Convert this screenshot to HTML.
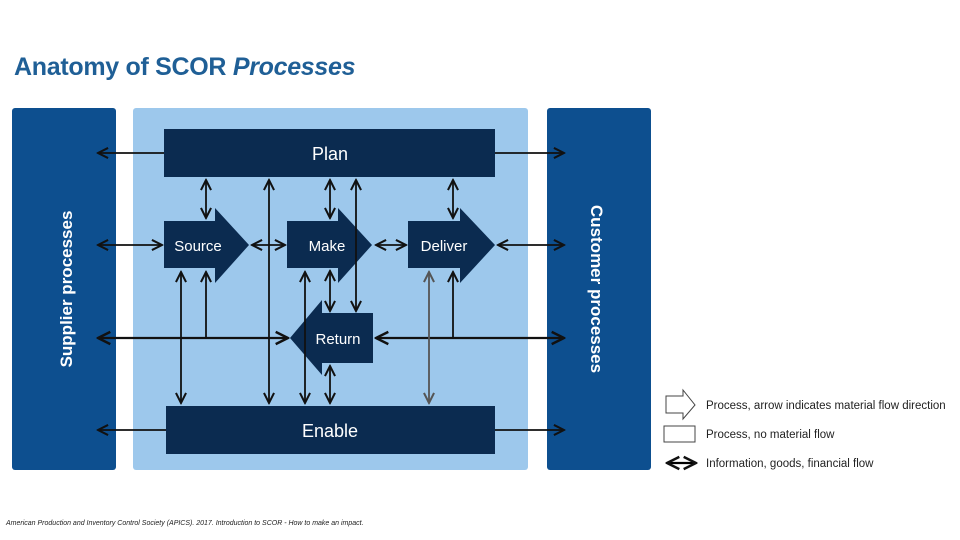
<!DOCTYPE html>
<html><head><meta charset="utf-8"><style>
body{margin:0;width:960px;height:540px;background:#fff;overflow:hidden;font-family:"Liberation Sans",sans-serif;position:relative}
.t{position:absolute;left:14px;top:53px;font-size:25px;font-weight:bold;color:#1f5f96;letter-spacing:-0.3px}
.f{position:absolute;left:6px;top:520px;font-size:7px;font-style:italic;color:#222}
</style></head><body>
<div class="t">Anatomy of SCOR <i>Processes</i></div>
<svg width="960" height="540" style="position:absolute;left:0;top:0" font-family="Liberation Sans, sans-serif">
<defs>
<marker id="a" viewBox="0 0 10 10" refX="9" refY="5" markerWidth="7" markerHeight="7" orient="auto-start-reverse"><path d="M1,1 L9,5 L1,9" fill="none" stroke="#111" stroke-width="1.6"/></marker>
<marker id="g" viewBox="0 0 10 10" refX="9" refY="5" markerWidth="7" markerHeight="7" orient="auto-start-reverse"><path d="M1,1 L9,5 L1,9" fill="none" stroke="#555" stroke-width="1.6"/></marker>
</defs>
<rect x="12" y="108" width="104" height="362" rx="3" fill="#0d4f8f"/>
<rect x="547" y="108" width="104" height="362" rx="3" fill="#0d4f8f"/>
<rect x="133" y="108" width="395" height="362" rx="3" fill="#9dc8ec"/>
<text transform="translate(72,289) rotate(-90)" text-anchor="middle" fill="#fff" font-size="17" font-weight="bold">Supplier processes</text>
<text transform="translate(591,289) rotate(90)" text-anchor="middle" fill="#fff" font-size="17" font-weight="bold">Customer processes</text>
<rect x="164" y="129" width="331" height="48" fill="#0b2b50"/>
<text x="330" y="160" text-anchor="middle" fill="#fff" font-size="18">Plan</text>
<rect x="166" y="406" width="329" height="48" fill="#0b2b50"/>
<text x="330" y="437" text-anchor="middle" fill="#fff" font-size="18">Enable</text>
<path d="M164,221 H215 V208 L249,245 L215,283 V268 H164Z" fill="#0b2b50"/>
<text x="198" y="251" text-anchor="middle" fill="#fff" font-size="15">Source</text>
<path d="M287,221 H338 V208 L372,245 L338,283 V268 H287Z" fill="#0b2b50"/>
<text x="327" y="251" text-anchor="middle" fill="#fff" font-size="15">Make</text>
<path d="M408,221 H460 V208 L495,245 L460,283 V268 H408Z" fill="#0b2b50"/>
<text x="444" y="251" text-anchor="middle" fill="#fff" font-size="15">Deliver</text>
<path d="M373,313 H322 V300 L290,338 L322,375 V363 H373Z" fill="#0b2b50"/>
<text x="338" y="344" text-anchor="middle" fill="#fff" font-size="15">Return</text>
<g stroke="#111" stroke-width="1.8" fill="none">
<line x1="164" y1="153" x2="98" y2="153" marker-end="url(#a)"/>
<line x1="495" y1="153" x2="564" y2="153" marker-end="url(#a)"/>
<line x1="98" y1="245" x2="162" y2="245" marker-start="url(#a)" marker-end="url(#a)"/>
<line x1="252" y1="245" x2="285" y2="245" marker-start="url(#a)" marker-end="url(#a)"/>
<line x1="376" y1="245" x2="406" y2="245" marker-start="url(#a)" marker-end="url(#a)"/>
<line x1="498" y1="245" x2="564" y2="245" marker-start="url(#a)" marker-end="url(#a)"/>
<line x1="98" y1="338" x2="288" y2="338" marker-start="url(#a)" marker-end="url(#a)" stroke-width="2.2"/>
<line x1="376" y1="338" x2="564" y2="338" marker-start="url(#a)" marker-end="url(#a)" stroke-width="2.2"/>
<line x1="166" y1="430" x2="98" y2="430" marker-end="url(#a)"/>
<line x1="495" y1="430" x2="564" y2="430" marker-end="url(#a)"/>
<line x1="206" y1="180" x2="206" y2="218" marker-start="url(#a)" marker-end="url(#a)"/>
<line x1="330" y1="180" x2="330" y2="218" marker-start="url(#a)" marker-end="url(#a)"/>
<line x1="453" y1="180" x2="453" y2="218" marker-start="url(#a)" marker-end="url(#a)"/>
<line x1="269" y1="180" x2="269" y2="403" marker-start="url(#a)" marker-end="url(#a)"/>
<line x1="356" y1="180" x2="356" y2="311" marker-start="url(#a)" marker-end="url(#a)"/>
<line x1="181" y1="272" x2="181" y2="403" marker-start="url(#a)" marker-end="url(#a)"/>
<line x1="206" y1="272" x2="206" y2="338" marker-start="url(#a)"/>
<line x1="305" y1="272" x2="305" y2="403" marker-start="url(#a)" marker-end="url(#a)"/>
<line x1="330" y1="271" x2="330" y2="311" marker-start="url(#a)" marker-end="url(#a)"/>
<line x1="330" y1="366" x2="330" y2="403" marker-start="url(#a)" marker-end="url(#a)"/>
<line x1="453" y1="272" x2="453" y2="338" marker-start="url(#a)"/>
<line x1="429" y1="272" x2="429" y2="403" stroke="#555" marker-start="url(#g)" marker-end="url(#g)"/>
</g>
<path d="M666,396 H683 V390 L695,405 L683,419 V413 H666Z" fill="#fff" stroke="#444" stroke-width="1"/>
<rect x="664" y="426" width="31" height="16" fill="#fff" stroke="#444" stroke-width="1"/>
<line x1="667" y1="463" x2="696" y2="463" stroke="#000" stroke-width="2.2" marker-start="url(#a)" marker-end="url(#a)"/>
<g font-size="11.5" fill="#222">
<text x="706" y="409">Process, arrow indicates material flow direction</text>
<text x="706" y="438">Process, no material flow</text>
<text x="706" y="467">Information, goods, financial flow</text>
</g>
</svg>
<div class="f">American Production and Inventory Control Society (APICS). 2017. Introduction to SCOR - How to make an impact.</div>
</body></html>
